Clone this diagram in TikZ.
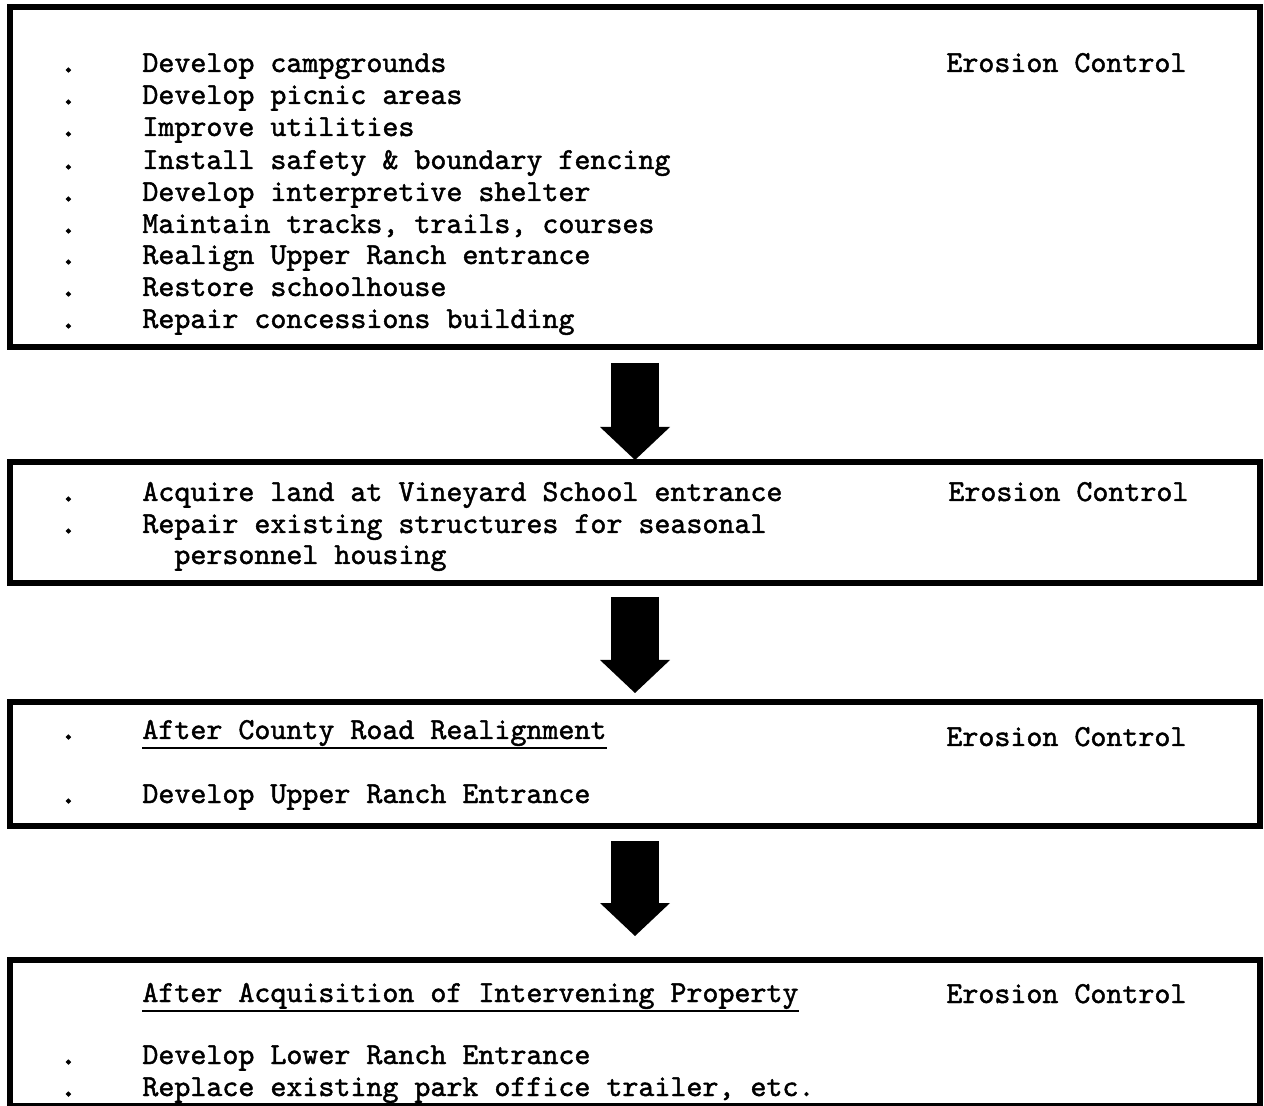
\documentclass[tikz,border=0pt]{standalone}
\usepackage{fontspec}
\usetikzlibrary{arrows.meta}
\newfontfamily\tw{lmmono10-regular.otf}[FakeBold=1.5]
\newfontfamily\twdot{lmmono10-regular.otf}[FakeBold=4]

\begin{document}
\begin{tikzpicture}[x=0.5pt, y=-0.5pt]
	\tikzset{
		box/.style = {rectangle, draw, line width=3pt, inner sep=0pt, outer sep=0pt, anchor=north west, minimum width=625pt},
		line/.style = {anchor=base west, inner sep=0pt, font=\tw\fontsize{15.24pt}{16pt}\selectfont},
		dot/.style = {anchor=base west, inner sep=0pt, font=\twdot\fontsize{15.24pt}{16pt}\selectfont},
		flow/.style = {line width=24pt, -{Triangle[width=35pt, length=16.5pt, line width=0pt]}},
		uline/.style = {line width=1pt}
	}
	\useasboundingbox (0, 0) rectangle (1264, 1106);

	% the four stages
	\node[box, minimum height=170pt] (b1) at (10, 7) {};
	\node[box, minimum height=60.5pt] (b2) at (10, 462) {};
	\node[box, minimum height=62pt] (b3) at (10, 702) {};
	\node[box, minimum height=73pt] (b4) at (10, 960) {};

	% stage 1
	\node[dot] (d11) at (60, 72) {.};
	\node[dot] (d12) at (60, 104) {.};
	\node[dot] (d13) at (60, 136) {.};
	\node[dot] (d14) at (60, 169) {.};
	\node[dot] (d15) at (60, 201) {.};
	\node[dot] (d16) at (60, 233) {.};
	\node[dot] (d17) at (60, 264) {.};
	\node[dot] (d18) at (60, 296) {.};
	\node[dot] (d19) at (60, 328) {.};
	\node[line] (camp) at (142, 72) {Develop campgrounds};
	\node[line] (picnic) at (142, 104) {Develop picnic areas};
	\node[line] (util) at (142, 136) {Improve utilities};
	\node[line] (fence) at (142, 169) {Install safety \& boundary fencing};
	\node[line] (shelter) at (142, 201) {Develop interpretive shelter};
	\node[line] (trails) at (142, 233) {Maintain tracks, trails, courses};
	\node[line] (realign) at (142, 264) {Realign Upper Ranch entrance};
	\node[line] (school) at (142, 296) {Restore schoolhouse};
	\node[line] (conc) at (142, 328) {Repair concessions building};
	\node[line] (e1) at (946, 72) {Erosion Control};

	% stage 2
	\node[dot] (d21) at (60, 501) {.};
	\node[dot] (d22) at (60, 533) {.};
	\node[line] (land) at (142, 501) {Acquire land at Vineyard School entrance};
	\node[line] (housing) at (142, 533) {Repair existing structures for seasonal};
	\node[line] (housing2) at (174, 564) {personnel housing};
	\node[line] (e2) at (948, 501) {Erosion Control};

	% stage 3
	\node[dot] (d31) at (60, 739) {.};
	\node[dot] (d32) at (60, 803) {.};
	\node[line] (h3) at (142, 739) {After County Road Realignment};
	\node[line] (upper) at (142, 803) {Develop Upper Ranch Entrance};
	\node[line] (e3) at (946, 746) {Erosion Control};
	\draw[uline] ([yshift=-4.5pt]h3.base west) -- ([yshift=-4.5pt]h3.base east);

	% stage 4
	\node[dot] (d41) at (60, 1064) {.};
	\node[dot] (d42) at (60, 1096) {.};
	\node[line] (h4) at (142, 1002) {After Acquisition of Intervening Property};
	\node[line] (lower) at (142, 1064) {Develop Lower Ranch Entrance};
	\node[line] (office) at (142, 1096) {Replace existing park office trailer, etc.};
	\node[line] (e4) at (946, 1003) {Erosion Control};
	\draw[uline] ([yshift=-4.5pt]h4.base west) -- ([yshift=-4.5pt]h4.base east);

	% arrows between stages
	\draw[flow, shorten <=8pt, shorten >=1pt] (b1.south) -- (b2.north);
	\draw[flow, shorten <=7pt, shorten >=4.5pt] (b2.south) -- (b3.north);
	\draw[flow, shorten <=7.5pt, shorten >=12pt] (b3.south) -- (b4.north);
\end{tikzpicture}
\end{document}
